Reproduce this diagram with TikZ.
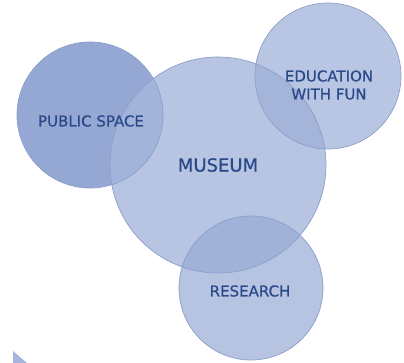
\documentclass[tikz,border=0pt]{standalone}
\usepackage{fontspec}
\setmainfont{DejaVu Sans}
\newfontfamily\lblfont[FakeBold=0.6]{DejaVu Sans}
\definecolor{pubfill}{HTML}{95A8D3}
\definecolor{musfill}{HTML}{B7C4E2}
\definecolor{edufill}{HTML}{B9C6E3}
\definecolor{resfill}{HTML}{B6C4E2}
\definecolor{pmfill}{HTML}{A3B4DB}
\definecolor{emfill}{HTML}{A5B5DA}
\definecolor{rmfill}{HTML}{A1B2D9}
\definecolor{edgecol}{HTML}{8C9ECD}
\definecolor{txtcol}{HTML}{294989}
\definecolor{tricol}{HTML}{A7B4DD}
\tikzset{
  ringedge/.style={draw=edgecol, line width=0.7pt},
  lbl/.style={text=txtcol, font=\lblfont\fontsize{15}{18}\selectfont, align=center, inner sep=0pt},
  biglbl/.style={text=txtcol, font=\lblfont\fontsize{18}{21}\selectfont, align=center, inner sep=0pt}
}
\begin{document}
\begin{tikzpicture}[x=1pt,y=-1pt]
\useasboundingbox (0,0) rectangle (404,363);
\coordinate (cP) at (90,115);
\coordinate (cM) at (218,165);
\coordinate (cE) at (328,76);
\coordinate (cR) at (251,288);
% base fills
\fill[pubfill] (cP) circle[radius=73pt];
\fill[musfill] (cM) circle[radius=108pt];
\fill[edufill] (cE) circle[radius=73pt];
\fill[resfill] (cR) circle[radius=72pt];
% overlaps
\begin{scope}
  \clip (cP) circle[radius=73pt];
  \fill[pmfill] (cM) circle[radius=108pt];
\end{scope}
\begin{scope}
  \clip (cE) circle[radius=73pt];
  \fill[emfill] (cM) circle[radius=108pt];
\end{scope}
\begin{scope}
  \clip (cR) circle[radius=72pt];
  \fill[rmfill] (cM) circle[radius=108pt];
\end{scope}
% outlines
\draw[ringedge] (cP) circle[radius=73pt];
\draw[ringedge] (cM) circle[radius=108pt];
\draw[ringedge] (cE) circle[radius=73pt];
\draw[ringedge] (cR) circle[radius=72pt];
% small corner shape
\fill[tricol] (13,351) -- (27,363) -- (13,363) -- cycle;
% labels
\node[lbl] (public) at (91,121) {PUBLIC SPACE};
\node[biglbl] (museum) at (218,165) {MUSEUM};
\node[lbl] (education) at (329,85) {EDUCATION\\WITH FUN};
\node[lbl] (research) at (250,291) {RESEARCH};
\end{tikzpicture}
\end{document}
